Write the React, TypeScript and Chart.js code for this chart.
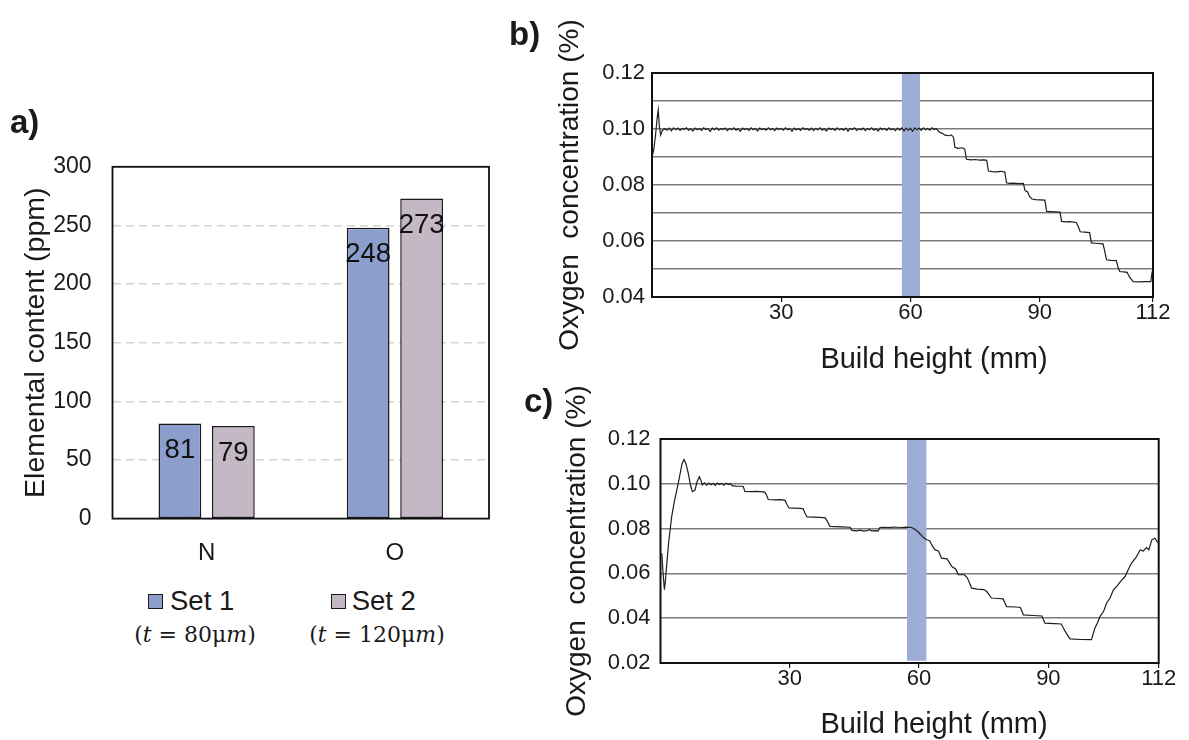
import React, { useEffect, useRef } from 'react';
import { Chart, registerables } from 'chart.js';

Chart.register(...registerables);

const SANS = '"Liberation Sans", Arial, Helvetica, sans-serif';
const SERIF = '"DejaVu Serif", "Liberation Serif", serif';
const INK = '#1a1a1a';

// ---------- Panel a: elemental content ----------
const elements = ['N', 'O'];
const set1Ppm = [81, 248];
const set2Ppm = [79, 273];
const setNames = ['Set 1', 'Set 2'];
const setThickness = ['80μm', '120μm'];
const setColors = ['#8c9fcc', '#c4b8c4'];
const ppmMax = 300;
const ppmStep = 50;

// ---------- Panel b: oxygen vs build height ----------
const bReadings: [number, number][] = [
  [0.0, 0.09], [0.4, 0.0925], [0.8, 0.0975], [1.2, 0.104], [1.45, 0.1068], [1.7, 0.101], [2.0, 0.0978], [2.4, 0.0995], [3.0, 0.1002],
  [3.5, 0.0996], [4, 0.1003], [4.5, 0.0994], [5, 0.1004], [5.5, 0.0997], [6, 0.1003], [6.5, 0.0995], [7, 0.1002], [7.5, 0.0998], [8, 0.1004],
  [8.5, 0.0996], [9, 0.1001], [9.5, 0.0993], [10, 0.1003], [10.5, 0.0997], [11, 0.1002], [11.5, 0.0995], [12, 0.1004], [12.5, 0.0998], [13, 0.1001],
  [13.5, 0.0991], [14, 0.1003], [14.5, 0.0997], [15, 0.1004], [15.5, 0.0996], [16, 0.1002], [16.5, 0.0998], [17, 0.1003], [17.5, 0.0994], [18, 0.1002],
  [18.5, 0.0997], [19, 0.1004], [19.5, 0.0996], [20, 0.1001], [20.5, 0.0992], [21, 0.1003], [21.5, 0.0998], [22, 0.1002], [22.5, 0.0995], [23, 0.1004],
  [23.5, 0.0997], [24, 0.1002], [24.5, 0.0993], [25, 0.1003], [25.5, 0.0998], [26, 0.1001], [26.5, 0.0996], [27, 0.1004], [27.5, 0.0997], [28, 0.1002],
  [28.5, 0.0994], [29, 0.1003], [29.5, 0.0998], [30, 0.1002], [30.5, 0.0996], [31, 0.1004], [31.5, 0.0997], [32, 0.1001], [32.5, 0.0992], [33, 0.1003],
  [33.5, 0.0997], [34, 0.1002], [34.5, 0.0995], [35, 0.1004], [35.5, 0.0998], [36, 0.1001], [36.5, 0.0996], [37, 0.1003], [37.5, 0.0994], [38, 0.1002],
  [38.5, 0.0997], [39, 0.1004], [39.5, 0.0996], [40, 0.1001], [40.5, 0.0993], [41, 0.1003], [41.5, 0.0998], [42, 0.1002], [42.5, 0.0995], [43, 0.1004],
  [43.5, 0.0997], [44, 0.1001], [44.5, 0.0996], [45, 0.1003], [45.5, 0.0992], [46, 0.1002], [46.5, 0.0998], [47, 0.1004], [47.5, 0.0995], [48, 0.1001],
  [48.5, 0.0997], [49, 0.1003], [49.5, 0.0994], [50, 0.1002], [50.5, 0.0997], [51, 0.1004], [51.5, 0.0996], [52, 0.1001], [52.5, 0.0993], [53, 0.1003],
  [53.5, 0.0998], [54, 0.1002], [54.5, 0.0995], [55, 0.1004], [55.5, 0.0997], [56, 0.1001], [56.5, 0.0994], [57, 0.1003], [57.5, 0.0996], [58, 0.1004],
  [58.5, 0.0993], [59, 0.1003], [59.5, 0.0996], [60, 0.1002], [60.5, 0.0992], [61, 0.1004], [61.5, 0.0997], [62, 0.1003], [62.5, 0.0995], [63, 0.1004],
  [63.5, 0.0997], [64, 0.1002], [64.5, 0.0996], [65, 0.1004], [65.5, 0.0998], [66, 0.1002],
  [66.5, 0.0992], [67, 0.0986], [67.5, 0.0984], [68, 0.0978], [69, 0.0976], [69.5, 0.0979], [70, 0.097], [70.3, 0.0935], [71, 0.0931], [72, 0.0933],
  [72.6, 0.0928], [73, 0.0892], [74, 0.089], [75, 0.0891], [76, 0.0889], [77, 0.089], [77.7, 0.0888], [78.1, 0.085], [79, 0.0848], [80, 0.0847],
  [81, 0.0849], [81.9, 0.0846], [82.3, 0.0808], [83, 0.0806], [84, 0.0807], [85, 0.0805], [86.2, 0.0806], [86.6, 0.078], [87.2, 0.0775], [87.6, 0.076],
  [88.2, 0.075], [89, 0.0748], [90, 0.0747], [91.2, 0.0746], [91.6, 0.0706], [92.5, 0.0705], [93.5, 0.0704], [94.7, 0.0703], [95.1, 0.067], [96, 0.0668],
  [97, 0.0669], [98.5, 0.0666], [99, 0.065], [99.4, 0.0633], [100.5, 0.0632], [101.6, 0.063], [102, 0.0593], [103, 0.0592], [104.7, 0.059], [105, 0.057],
  [105.5, 0.0533], [106.5, 0.0531], [107.8, 0.053], [108.2, 0.0505], [108.6, 0.0491], [109.5, 0.049], [110.3, 0.0488], [110.9, 0.047], [111.7, 0.0455],
  [113, 0.0454], [114.5, 0.0455], [115.8, 0.0455], [116.0, 0.048], [116.3, 0.0504],
];
const bHeightMax = 116.3;
const bOxygenMin = 0.04;
const bOxygenMax = 0.12;
const bBandHeight = [58, 62.2];
const bBandOxygen = [0.04, 0.12];

// ---------- Panel c ----------
const cReadings: [number, number][] = [
  [0.3, 0.069], [0.6, 0.06], [0.9, 0.0527], [1.1, 0.056], [1.4, 0.063], [1.9, 0.074], [2.6, 0.0854], [3.2, 0.092], [3.8, 0.0973], [4.4, 0.103],
  [5.0, 0.109], [5.45, 0.1109], [5.9, 0.109], [6.45, 0.1047], [7.0, 0.099], [7.4, 0.0965], [8.0, 0.0972], [8.5, 0.101], [9.0, 0.1032], [9.4, 0.1015],
  [9.7, 0.0995], [10.2, 0.1004], [10.7, 0.0994], [11.2, 0.1003], [11.7, 0.0996], [12.2, 0.1002], [12.7, 0.0993], [13.2, 0.1003], [13.7, 0.0997],
  [14.2, 0.1002], [14.7, 0.0994], [15.2, 0.1003], [15.7, 0.0997], [16.2, 0.1001], [16.6, 0.0992], [17.5, 0.099], [18.5, 0.0989], [19.2, 0.0988],
  [19.6, 0.0966], [21, 0.0965], [22.5, 0.0966], [24.2, 0.0963], [24.6, 0.095], [25, 0.093], [26.5, 0.0928], [28, 0.0929], [28.9, 0.0926], [29.4, 0.0905],
  [29.8, 0.0892], [31, 0.0891], [32.5, 0.089], [33.1, 0.0888], [33.5, 0.087], [34, 0.0852], [35.5, 0.0851], [37, 0.085], [38.2, 0.0848], [38.8, 0.083],
  [39.3, 0.081], [40.5, 0.0809], [42, 0.0808], [44, 0.0806], [44.4, 0.0792], [45.5, 0.079], [46.5, 0.0793], [47, 0.0789], [48, 0.0791], [48.5, 0.0795],
  [49, 0.079], [50, 0.0791], [50.5, 0.0789], [50.9, 0.0805], [52, 0.0806], [53, 0.0804], [54, 0.0807], [55, 0.0806], [56, 0.0805], [57, 0.0807],
  [58.3, 0.0805], [58.7, 0.08], [59.5, 0.079], [60.3, 0.0775], [61.0, 0.076], [61.8, 0.075], [62.5, 0.0745], [63.0, 0.0725], [63.7, 0.0705],
  [64.5, 0.07], [65.2, 0.0668], [66.5, 0.0665], [67.6, 0.0631], [68.5, 0.062], [69.1, 0.0594], [70.5, 0.0594], [71.2, 0.058], [72.2, 0.0534],
  [73.5, 0.053], [75.0, 0.0528], [75.7, 0.0519], [76.8, 0.049], [78.5, 0.0488], [79.5, 0.0486], [80.3, 0.0452], [82.5, 0.045], [83.5, 0.0448],
  [84.2, 0.0415], [86.5, 0.0412], [88.5, 0.041], [89.2, 0.0378], [91.5, 0.0376], [93.0, 0.0374], [93.9, 0.0341], [95.0, 0.0308], [97.5, 0.0305],
  [100.0, 0.0304], [100.8, 0.0356], [101.4, 0.038], [102.0, 0.0408], [102.8, 0.043], [103.5, 0.0467], [104.3, 0.049], [105.1, 0.0527], [106.0, 0.0545],
  [107.0, 0.057], [107.8, 0.0586], [108.5, 0.0615], [109.3, 0.0646], [110.3, 0.067], [111.3, 0.0705], [112.0, 0.07], [112.8, 0.0715], [113.3, 0.0705],
  [114.0, 0.075], [114.7, 0.0757], [115.5, 0.0735],
];
const cHeightMax = 115.6;
const cOxygenMin = 0.02;
const cOxygenMax = 0.12;
const cBandHeight = [57.2, 61.7];
const cBandOxygen = [0.021, 0.12];

const heightTickValues = [30, 60, 90];
const heightTickLabels = ['30', '60', '90', '112'];
const BAND_COLOR = '#9dadd6';

Chart.defaults.font.family = SANS;
Chart.defaults.color = INK;

const framePlugin = (w: number) => ({
  id: 'frame',
  afterDraw(chart: any) {
    const { ctx, chartArea: a } = chart;
    ctx.save();
    ctx.strokeStyle = '#111';
    ctx.lineWidth = w;
    ctx.strokeRect(a.left, a.top, a.right - a.left, a.bottom - a.top);
    ctx.restore();
  },
});

const bandPlugin = (xr: number[], yr: number[]) => ({
  id: 'band',
  beforeDatasetsDraw(chart: any) {
    const { ctx, scales } = chart;
    const x0 = scales.x.getPixelForValue(xr[0]);
    const x1 = scales.x.getPixelForValue(xr[1]);
    const y0 = scales.y.getPixelForValue(yr[1]);
    const y1 = scales.y.getPixelForValue(yr[0]);
    ctx.save();
    ctx.fillStyle = BAND_COLOR;
    ctx.fillRect(x0, y0, x1 - x0, y1 - y0);
    ctx.restore();
  },
});

const barLabelPlugin = {
  id: 'barLabels',
  afterDatasetsDraw(chart: any) {
    const { ctx } = chart;
    ctx.save();
    ctx.font = `27.5px ${SANS}`;
    ctx.fillStyle = '#111';
    ctx.textAlign = 'center';
    ctx.textBaseline = 'middle';
    chart.data.datasets.forEach((ds: any, i: number) => {
      chart.getDatasetMeta(i).data.forEach((bar: any, j: number) => {
        ctx.fillText(String(ds.data[j]), bar.x, bar.y + 27);
      });
    });
    ctx.restore();
  },
};

function buildA(): any {
  return {
    type: 'bar',
    data: {
      labels: elements,
      datasets: [set1Ppm, set2Ppm].map((d, i) => ({
        label: setNames[i],
        data: d,
        backgroundColor: setColors[i],
        borderColor: INK,
        borderWidth: 1.5,
        borderSkipped: false,
        categoryPercentage: 0.568,
        barPercentage: 0.8,
      })),
    },
    options: {
      responsive: false,
      animation: false,
      devicePixelRatio: 1,
      layout: { padding: { left: 0, top: 66.8, right: 11, bottom: 0 } },
      plugins: { legend: { display: false }, tooltip: { enabled: false } },
      scales: {
        x: {
          grid: { display: false, drawTicks: false },
          border: { display: false },
          ticks: { font: { size: 24, lineHeight: 1 }, color: INK, padding: 23 },
          afterFit: (s: any) => { s.height = 61.4; s.paddingLeft = 0; s.paddingRight = 0; },
        },
        y: {
          min: 0,
          max: ppmMax,
          ticks: { stepSize: ppmStep, font: { size: 23 }, color: INK, padding: 21 },
          grid: { color: '#d4d4d4', lineWidth: 1.4, drawTicks: false },
          border: { display: false, dash: [8, 5] },
          title: {
            display: true,
            text: 'Elemental content (ppm)',
            font: { size: 28.5, lineHeight: 1.2 },
            color: INK,
            padding: { top: 18.9, bottom: 0 },
          },
          afterFit: (s: any) => { s.width = 112.5; s.paddingTop = 0; s.paddingBottom = 0; },
        },
      },
    },
    plugins: [barLabelPlugin, framePlugin(1.8)],
  };
}

function buildLine(
  readings: [number, number][], xMax: number, yMin: number, yMax: number, yStep: number,
  everyOtherLabel: boolean, band: number[], bandY: number[],
  pad: { top: number; right: number }, yWidth: number, xHeight: number, tickPad: number, titlePad: number,
): any {
  return {
    type: 'line',
    data: {
      datasets: [{
        data: readings.map(([x, y]) => ({ x, y })),
        borderColor: '#1e1e1e',
        borderWidth: 1.2,
        pointRadius: 0,
        tension: 0,
      }],
    },
    options: {
      responsive: false,
      animation: false,
      devicePixelRatio: 1,
      layout: { padding: { left: 0, top: pad.top, right: pad.right, bottom: 0 } },
      plugins: { legend: { display: false }, tooltip: { enabled: false } },
      scales: {
        x: {
          type: 'linear',
          min: 0,
          max: xMax,
          afterBuildTicks: (s: any) => { s.ticks = [...heightTickValues, xMax].map((value) => ({ value })); },
          ticks: {
            callback: (_v: any, i: number) => heightTickLabels[i],
            font: { size: 22, lineHeight: 1 },
            color: INK,
            padding: 0,
            maxRotation: 0,
            autoSkip: false,
          },
          grid: { drawOnChartArea: false, drawTicks: true, tickLength: 5, color: INK, lineWidth: 1.2 },
          border: { display: false },
          afterFit: (s: any) => { s.height = xHeight; s.paddingLeft = 0; s.paddingRight = 0; },
        },
        y: {
          min: yMin,
          max: yMax,
          ticks: {
            stepSize: yStep,
            autoSkip: false,
            callback: (v: number) => (!everyOtherLabel || Math.round(v * 100) % 2 === 0 ? v.toFixed(2) : ''),
            font: { size: 22 },
            color: INK,
            padding: tickPad,
          },
          grid: { color: '#7c7c7c', lineWidth: 1.5, drawTicks: false },
          border: { display: false },
          title: {
            display: true,
            text: 'Oxygen  concentration (%)',
            font: { size: 28, lineHeight: 1.2 },
            color: INK,
            padding: { top: titlePad, bottom: 0 },
          },
          afterFit: (s: any) => { s.width = yWidth; s.paddingTop = 0; s.paddingBottom = 0; },
        },
      },
    },
    plugins: [bandPlugin(band, bandY), framePlugin(2)],
  };
}

function ChartBox({ left, top, width, height, build }: { left: number; top: number; width: number; height: number; build: () => any }) {
  const ref = useRef<HTMLCanvasElement>(null);
  useEffect(() => {
    const chart = new Chart(ref.current as HTMLCanvasElement, build());
    return () => chart.destroy();
  }, []);
  return (
    <canvas
      ref={ref}
      width={width}
      height={height}
      style={{ position: 'absolute', left, top, width, height }}
    />
  );
}

const abs = (extra: React.CSSProperties): React.CSSProperties => ({ position: 'absolute', whiteSpace: 'nowrap', lineHeight: 1, ...extra });

const legendSlots = [
  { square: 147.7, text: 170, sub: 195 },
  { square: 331, text: 351.7, sub: 377 },
];

export default function App() {
  return (
    <div style={{ position: 'absolute', left: 0, top: 0, width: 1189, height: 740, background: '#fff', overflow: 'hidden', fontFamily: SANS, color: INK }}>
      <ChartBox left={0} top={100} width={500} height={480} build={buildA} />
      <ChartBox
        left={540} top={0} width={649} height={370}
        build={() => buildLine(bReadings, bHeightMax, bOxygenMin, bOxygenMax, 0.01, true, bBandHeight, bBandOxygen, { top: 73, right: 36 }, 112, 73, 7, 13.2)}
      />
      <ChartBox
        left={540} top={370} width={649} height={370}
        build={() => buildLine(cReadings, cHeightMax, cOxygenMin, cOxygenMax, 0.02, false, cBandHeight, cBandOxygen, { top: 69, right: 30.3 }, 120.5, 77, 10, 20.2)}
      />

      <div style={abs({ left: 10, top: 121, transform: 'translateY(-50%)', fontSize: 33, fontWeight: 'bold' })}>a)</div>
      <div style={abs({ left: 509, top: 33, transform: 'translateY(-50%)', fontSize: 33, fontWeight: 'bold' })}>b)</div>
      <div style={abs({ left: 524, top: 400, transform: 'translateY(-50%)', fontSize: 33, fontWeight: 'bold' })}>c)</div>

      <div style={abs({ left: 934, top: 358, transform: 'translate(-50%,-50%)', fontSize: 29 })}>Build height (mm)</div>
      <div style={abs({ left: 934, top: 723, transform: 'translate(-50%,-50%)', fontSize: 29 })}>Build height (mm)</div>

      {setNames.map((name, i) => (
        <React.Fragment key={name}>
          <div style={{ position: 'absolute', left: legendSlots[i].square, top: 594, width: 15, height: 15, boxSizing: 'border-box', border: `1.5px solid ${INK}`, background: setColors[i] }} />
          <div style={abs({ left: legendSlots[i].text, top: 601.4, transform: 'translateY(-50%)', fontSize: 27.5 })}>{name}</div>
          <div style={abs({ left: legendSlots[i].sub, top: 634.6, transform: 'translate(-50%,-50%)', fontSize: 22, fontFamily: SERIF })}>
            (<i>t</i> = {setThickness[i].replace('m', '')}<i>m</i>)
          </div>
        </React.Fragment>
      ))}
    </div>
  );
}
